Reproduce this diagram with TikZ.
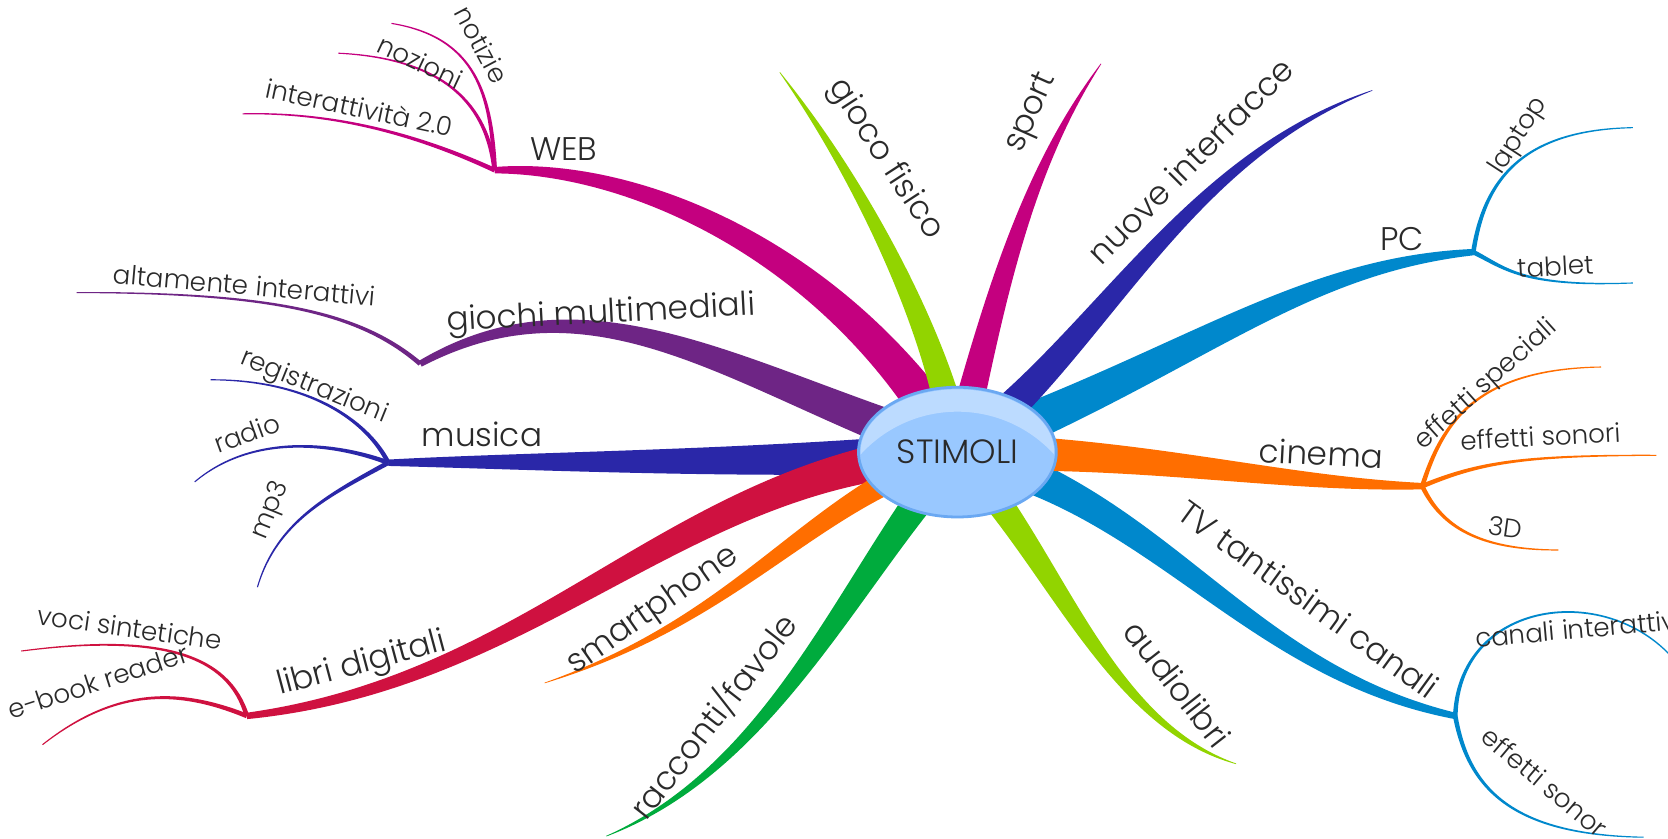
\documentclass[tikz,border=0pt]{standalone}
\usepackage{fontspec}
\setmainfont{Poppins}[UprightFont=* Light]
\usetikzlibrary{calc,shapes.geometric}
\definecolor{mag}{HTML}{C4007F}
\definecolor{lime}{HTML}{92D400}
\definecolor{navy}{HTML}{2A27A8}
\definecolor{sky}{HTML}{0088CC}
\definecolor{orng}{HTML}{FF6E00}
\definecolor{crim}{HTML}{CF1140}
\definecolor{grn}{HTML}{00AB3D}
\definecolor{purp}{HTML}{6E2585}
\definecolor{ink}{HTML}{2A2A2A}
\definecolor{bubble}{HTML}{99C8FF}
\definecolor{rim}{HTML}{6AA8F2}

% tapered limb: colour, half width at root, half width at tip, root, control 1, control 2, tip
\newcommand{\limb}[7]{%
  \fill[#1] ($(#4)!#2*0.2mm!90:(#5)$)
    .. controls ($(#5)!#2*0.1333mm+#3*0.0667mm!90:(#6)$) and ($(#6)!#2*0.0667mm+#3*0.1333mm!90:(#7)$) .. ($(#7)!#3*0.2mm!-90:(#6)$)
    -- ($(#7)!#3*0.2mm!90:(#6)$)
    .. controls ($(#6)!#2*0.0667mm+#3*0.1333mm!-90:(#7)$) and ($(#5)!#2*0.1333mm+#3*0.0667mm!-90:(#6)$) .. ($(#4)!#2*0.2mm!-90:(#5)$) -- cycle;}

\begin{document}
\begin{tikzpicture}[x=0.02cm,y=-0.02cm,
    lab/.style={font=\fontsize{17.5}{20}\selectfont,text=ink,inner sep=0pt},
    sublab/.style={font=\fontsize{14}{16}\selectfont,text=ink,inner sep=0pt},
    stim/.style={ellipse,draw=rim,line width=1.5pt,fill=bubble,minimum width=3.72cm,minimum height=2.44cm,inner sep=0pt,
      font=\fontsize{18}{20}\selectfont,text=ink}]
\fill[white] (0,0) rectangle (1568,788);
\useasboundingbox (0,0) rectangle (1568,788);

\coordinate (s) at (900,425);
% hubs
\coordinate (web) at (465,160);
\coordinate (pc) at (1385,237);
\coordinate (cinema) at (1337,457);
\coordinate (tv) at (1368,673);
\coordinate (libri) at (232,673);
\coordinate (musica) at (365,435);
\coordinate (giochi) at (395,342);
% free ends
\coordinate (inter) at (228,107);
\coordinate (nozioni) at (318,50);
\coordinate (notizie) at (368,22);
\coordinate (gioco) at (733,68);
\coordinate (sport) at (1035,60);
\coordinate (nuove) at (1290,85);
\coordinate (laptop) at (1535,120);
\coordinate (tablet) at (1535,266);
\coordinate (speciali) at (1505,345);
\coordinate (sonori) at (1557,428);
\coordinate (treD) at (1465,517);
\coordinate (canali) at (1580,628);
\coordinate (sonor) at (1545,787);
\coordinate (audio) at (1162,718);
\coordinate (racconti) at (570,786);
\coordinate (smart) at (512,642);
\coordinate (voci) at (20,612);
\coordinate (ebook) at (40,700);
\coordinate (reg) at (198,357);
\coordinate (radio) at (183,453);
\coordinate (mp3) at (242,552);
\coordinate (alta) at (72,275);

% WEB
\limb{mag}{20}{3}{s}{790,240}{600,155}{web}
\limb{mag}{2.2}{0.5}{web}{400,130}{320,105}{inter}
\limb{mag}{2.2}{0.5}{web}{458,100}{420,55}{nozioni}
\limb{mag}{2.2}{0.5}{web}{462,90}{448,35}{notizie}
% giochi multimediali
\limb{purp}{19}{3}{s}{700,360}{560,250}{giochi}
\limb{purp}{2.2}{0.5}{giochi}{340,295}{260,275}{alta}
% musica
\limb{navy}{19}{3}{s}{700,437}{500,433}{musica}
\limb{navy}{2.2}{0.5}{musica}{345,395}{290,357}{reg}
\limb{navy}{2.2}{0.5}{musica}{320,418}{240,405}{radio}
\limb{navy}{2.2}{0.5}{musica}{310,465}{260,490}{mp3}
% libri digitali
\limb{crim}{20}{3}{s}{640,440}{510,640}{libri}
\limb{crim}{2.2}{0.5}{libri}{215,615}{150,595}{voci}
\limb{crim}{2.2}{0.5}{libri}{170,648}{110,645}{ebook}
% smartphone, racconti, audiolibri
\limb{orng}{14}{0.3}{s}{760,470}{700,580}{smart}
\limb{grn}{16}{0.3}{s}{800,540}{730,720}{racconti}
\limb{lime}{15}{0.3}{s}{990,520}{1040,680}{audio}
% TV
\limb{sky}{19}{3}{s}{1090,470}{1170,630}{tv}
\limb{sky}{2.2}{0.5}{tv}{1372,560}{1520,545}{canali}
\limb{sky}{2.2}{0.5}{tv}{1380,740}{1420,785}{sonor}
% cinema
\limb{orng}{18}{3}{s}{1080,425}{1200,455}{cinema}
\limb{orng}{2.2}{0.5}{cinema}{1355,400}{1385,347}{speciali}
\limb{orng}{2.2}{0.5}{cinema}{1390,435}{1430,428}{sonori}
\limb{orng}{2.2}{0.5}{cinema}{1355,495}{1390,517}{treD}
% PC
\limb{sky}{20}{3}{s}{1120,340}{1220,250}{pc}
\limb{sky}{2.2}{0.5}{pc}{1395,170}{1430,122}{laptop}
\limb{sky}{2.2}{0.5}{pc}{1415,252}{1430,270}{tablet}
% nuove interfacce, sport, gioco fisico
\limb{navy}{17}{0.3}{s}{1030,330}{1110,150}{nuove}
\limb{mag}{15}{0.3}{s}{935,280}{965,160}{sport}
\limb{lime}{15}{0.3}{s}{885,320}{810,170}{gioco}

% centre
\node[stim] (stimoli) at (s) {STIMOLI};
\begin{scope}
  \clip (s) ellipse (91 and 59);
  \fill[white,opacity=.35,even odd rule] (800,360) rectangle (1000,500) (900,510) circle (123);
\end{scope}

% labels
\node[lab] (webL) at (530,140) {WEB};
\node[sublab,rotate=-12] (interL) at (338,101) {interattività 2.0};
\node[sublab,rotate=-25] (nozL) at (395,58) {nozioni};
\node[sublab,rotate=-62] (notL) at (453,42) {notizie};
\node[lab,rotate=-57] (giocoL) at (832,150) {gioco fisico};
\node[lab,rotate=66] (sportL) at (970,106) {sport};
\node[lab,rotate=45] (nuoveL) at (1119,151) {nuove interfacce};
\node[lab] (pcL) at (1318,225) {PC};
\node[sublab,rotate=57] (laptopL) at (1428,128) {laptop};
\node[sublab,rotate=3] (tabletL) at (1462,250) {tablet};
\node[lab,rotate=-3] (cinemaL) at (1242,426) {cinema};
\node[sublab,rotate=42] (specL) at (1397,362) {effetti speciali};
\node[sublab,rotate=3] (sonoriL) at (1448,410) {effetti sonori};
\node[sublab,rotate=-8] (treDL) at (1415,496) {3D};
\node[lab,rotate=-36] (tvL) at (1230,563) {TV tantissimi canali};
\node[sublab,rotate=5] (canaliL) at (1484,591) {canali interattivi};
\node[sublab,rotate=-40] (sonorL) at (1452,735) {effetti sonor};
\node[lab,rotate=-52] (audioL) at (1107,643) {audiolibri};
\node[lab,rotate=52] (raccL) at (670,673) {racconti/favole};
\node[lab,rotate=35] (smartL) at (614,574) {smartphone};
\node[lab,rotate=15] (libriL) at (340,625) {libri digitali};
\node[sublab,rotate=-8] (vociL) at (122,590) {voci sintetiche};
\node[sublab,rotate=18] (ebookL) at (92,641) {e-book reader};
\node[lab] (musicaL) at (453,408) {musica};
\node[sublab,rotate=-22] (regL) at (295,364) {registrazioni};
\node[sublab,rotate=20] (radioL) at (232,407) {radio};
\node[sublab,rotate=68] (mp3L) at (255,480) {mp3};
\node[lab,rotate=3] (giochiL) at (565,296) {giochi multimediali};
\node[sublab,rotate=-5] (altaL) at (230,268) {altamente interattivi};
\end{tikzpicture}
\end{document}
